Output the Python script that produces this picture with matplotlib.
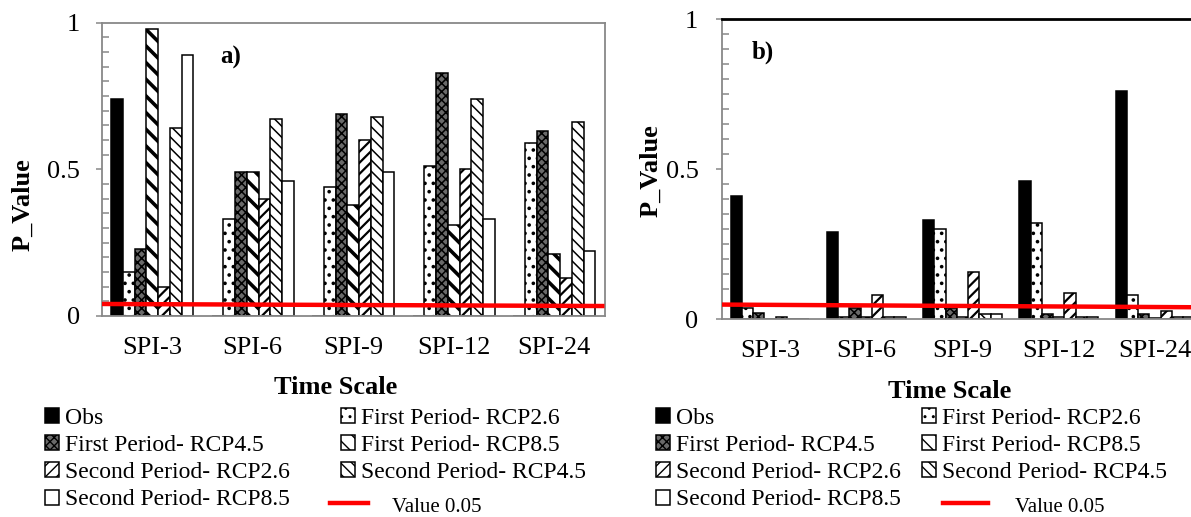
import matplotlib
matplotlib.use("Agg")
import matplotlib.pyplot as plt
import numpy as np
from matplotlib.lines import Line2D
from matplotlib.ticker import MultipleLocator

plt.rcParams['font.family'] = ['Liberation Serif', 'DejaVu Serif']
plt.rcParams['hatch.linewidth'] = 1.0

categories = ['SPI-3', 'SPI-6', 'SPI-9', 'SPI-12', 'SPI-24']
series_labels = ['Obs', 'First Period- RCP2.6', 'First Period- RCP4.5', 'First Period- RCP8.5',
                 'Second Period- RCP2.6', 'Second Period- RCP4.5', 'Second Period- RCP8.5']

# Panel a
a_obs  = [0.74, 0.0, 0.0, 0.0, 0.0]
a_fp26 = [0.15, 0.33, 0.44, 0.51, 0.59]
a_fp45 = [0.23, 0.49, 0.69, 0.83, 0.63]
a_fp85 = [0.98, 0.49, 0.38, 0.31, 0.21]
a_sp26 = [0.10, 0.40, 0.60, 0.50, 0.13]
a_sp45 = [0.64, 0.67, 0.68, 0.74, 0.66]
a_sp85 = [0.89, 0.46, 0.49, 0.33, 0.22]
a_ref_line = [0.041, 0.034]

# Panel b
b_obs  = [0.41, 0.29, 0.33, 0.46, 0.76]
b_fp26 = [0.038, 0.008, 0.30, 0.32, 0.08]
b_fp45 = [0.02, 0.037, 0.037, 0.019, 0.019]
b_fp85 = [0.0, 0.008, 0.009, 0.009, 0.005]
b_sp26 = [0.009, 0.081, 0.159, 0.089, 0.029]
b_sp45 = [0.0, 0.009, 0.019, 0.009, 0.009]
b_sp85 = [0.0, 0.009, 0.019, 0.009, 0.009]
b_ref_line = [0.049, 0.040]

ref_label = 'Value 0.05'

# style per series: (facecolor, hatch, hatch linewidth)
styles = [
    ('black', None, 1.0),
    ('white', '..', 1.4),
    ('#6a6a6a', 'xxxx', 1.1),
    ('white', '\\\\', 2.6),
    ('white', '///', 1.6),
    ('white', '\\\\\\', 1.1),
    ('white', None, 1.0),
]

W, H = 1191, 517
fig = plt.figure(figsize=(W / 100, H / 100), dpi=100)

def px_axes(l, r, t, b):
    return fig.add_axes([l / W, 1 - b / H, (r - l) / W, (b - t) / H])

ax_a = px_axes(102, 604.5, 22.7, 316)
ax_b = px_axes(722, 1203, 19, 319.3)

bar_w = 0.117
x = np.arange(len(categories))

def draw(ax, data, ref, spine_col_top):
    handles = []
    n = len(data)
    for i, (vals, (fc, hatch, hlw)) in enumerate(zip(data, styles)):
        offs = (i - (n - 1) / 2) * bar_w
        bc = ax.bar(x + offs, vals, width=bar_w, color=fc, edgecolor='black',
                    linewidth=1.1, hatch=hatch, label=series_labels[i], zorder=2)
        for p in bc.patches:
            if hasattr(p, 'set_hatch_linewidth'):
                p.set_hatch_linewidth(hlw)
        handles.append(bc)
    ax.plot([-0.5, 4.5], ref, color='#ff0000', lw=3.2, zorder=5, solid_capstyle='butt')
    ax.set_xlim(-0.5, 4.5)
    ax.set_ylim(0, 1)
    ax.set_xticks(x)
    ax.set_xticklabels(categories, fontsize=19)
    ax.set_yticks([0, 0.5, 1])
    ax.set_yticklabels(['0', '0.5', '1'], fontsize=19)
    ax.yaxis.set_minor_locator(MultipleLocator(0.05))
    ax.tick_params(axis='x', length=0, pad=15)
    ax.tick_params(axis='y', which='major', direction='out', length=4, width=1.1,
                   color='#888888', pad=12)
    ax.tick_params(axis='y', which='minor', direction='in', length=5, width=1.1,
                   color='#888888')
    for s in ['left', 'bottom', 'right', 'top']:
        ax.spines[s].set_color('#888888')
        ax.spines[s].set_linewidth(1.3)
    ax.spines['top'].set_color(spine_col_top)
    ax.set_ylabel('P_Value', fontsize=19, fontweight='bold')
    ax.set_xlabel('Time Scale', fontsize=19, fontweight='bold')
    ax.xaxis.label.set_va('center')
    ax.yaxis.label.set_va('center')
    return handles

ha = draw(ax_a, [a_obs, a_fp26, a_fp45, a_fp85, a_sp26, a_sp45, a_sp85], a_ref_line, '#888888')
hb = draw(ax_b, [b_obs, b_fp26, b_fp45, b_fp85, b_sp26, b_sp45, b_sp85], b_ref_line, 'black')
ax_b.spines['top'].set_linewidth(2.0)
ax_b.spines['right'].set_visible(False)

ax_a.yaxis.set_label_coords((23 - 102) / 502.5, (316 - 205) / 293.3)
ax_a.xaxis.set_label_coords((336 - 102) / 502.5, (316 - 387) / 293.3)
ax_b.yaxis.set_label_coords((651 - 722) / 481, (319.3 - 171) / 300.3)
ax_b.xaxis.set_label_coords((950 - 722) / 481, (319.3 - 392) / 300.3)
ax_b.tick_params(axis='y', which='major', pad=13)

ax_a.text((231 - 102) / 502.5, (316 - 57) / 293.3, 'a)', transform=ax_a.transAxes,
          fontsize=18, fontweight='bold', ha='center', va='center')
ax_b.text((763 - 722) / 481, (319.3 - 52) / 300.3, 'b)', transform=ax_b.transAxes,
          fontsize=18, fontweight='bold', ha='center', va='center')

order = [0, 2, 4, 6, 1, 3, 5]

def add_legend(handles, x0, y0, colsp, line_x, text_x):
    leg = fig.legend([handles[i] for i in order], [series_labels[i] for i in order],
                     ncol=2, loc='upper left', bbox_to_anchor=(x0 / W, 1 - y0 / H),
                     frameon=False, fontsize=17, borderpad=0, borderaxespad=0,
                     handlelength=0.6, handleheight=0.6, handletextpad=0.25,
                     labelspacing=0.26, columnspacing=colsp)
    fig.add_artist(Line2D([line_x[0] / W, line_x[1] / W], [1 - 503 / H] * 2,
                          color='#ff0000', lw=3.2, transform=fig.transFigure))
    fig.text(text_x / W, 1 - 508 / H, ref_label, fontsize=15, va='center', ha='left')
    return leg

add_legend(ha, 45, 408, 2.17, (330, 368), 392)
add_legend(hb, 656, 408, 0.9, (943, 988), 1015)

fig.savefig('out.png', dpi=100)
